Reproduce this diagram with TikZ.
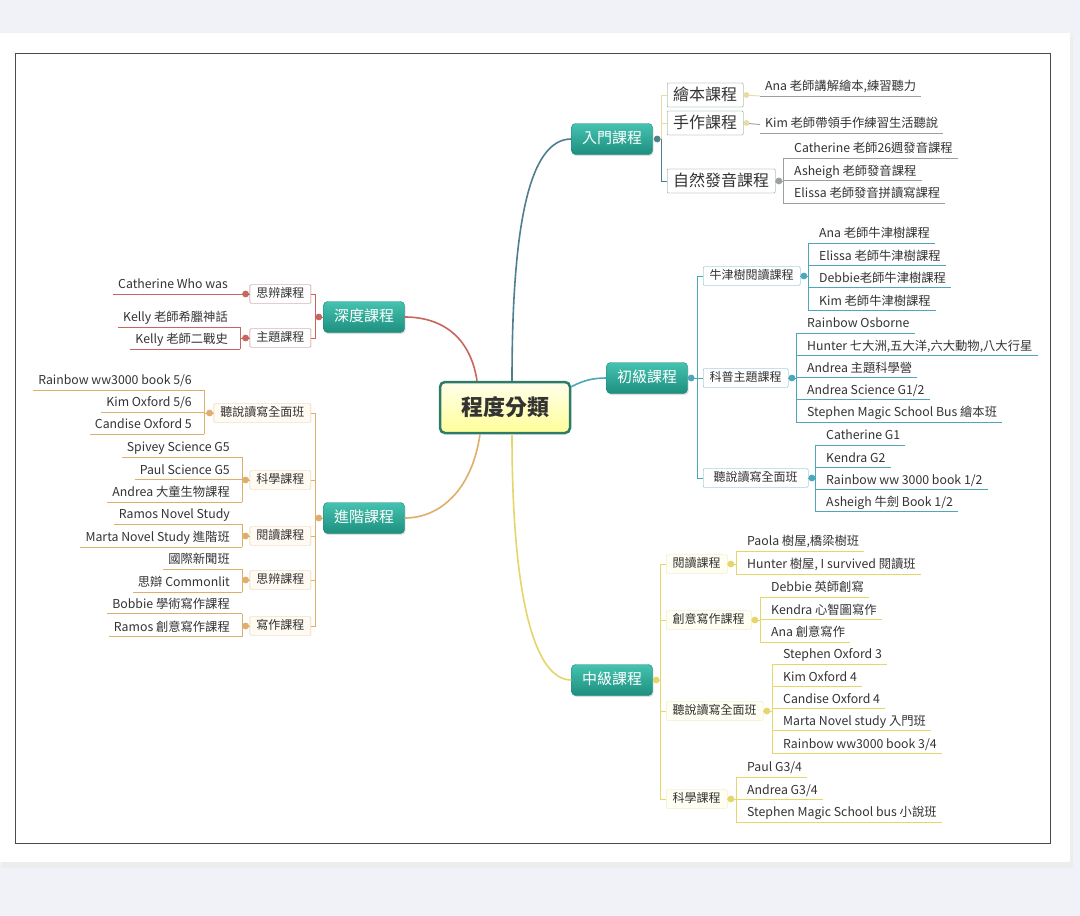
\documentclass[tikz,border=0pt]{standalone}
\usepackage{fontspec}
\setmainfont{Noto Sans CJK TC}
\usetikzlibrary{positioning,shadows}
\definecolor{pagebg}{HTML}{F0F2F7}
\definecolor{framec}{HTML}{4A4A4A}
\definecolor{txt}{HTML}{333333}
\definecolor{tealtop}{HTML}{45C2B0}
\definecolor{tealbot}{HTML}{1E8F7F}
\definecolor{tealbd}{HTML}{1F8576}
\definecolor{rootbd}{HTML}{2E7B6A}
\definecolor{rmc}{HTML}{4F7F8F}
\definecolor{rmy}{HTML}{EADBA0}
\definecolor{rmg}{HTML}{9A9FA0}
\definecolor{rmbox}{HTML}{6F8F72}
\definecolor{cjc}{HTML}{4DA7BA}
\definecolor{cjbox}{HTML}{5AAEC0}
\definecolor{zjc}{HTML}{E6D56A}
\definecolor{zjbox}{HTML}{ECE3A6}
\definecolor{zjfill}{HTML}{FFFEF2}
\definecolor{sdc}{HTML}{C6665F}
\definecolor{sdbox}{HTML}{B07272}
\definecolor{jjc}{HTML}{DDAE6C}
\definecolor{jjbox}{HTML}{E3C79C}
\definecolor{jjfill}{HTML}{FFFAF2}
\begin{document}
\begin{tikzpicture}[x=1pt, y=-1pt,
  rootbox/.style={draw=rootbd, line width=2.5pt, rounded corners=5pt, top color=yellow!8, bottom color=yellow!40,
    text=txt, font=\fontsize{22}{26}\selectfont\bfseries, minimum width=130pt, minimum height=51pt},
  main/.style={draw=tealbd, rounded corners=4pt, top color=tealtop, bottom color=tealbot, text=white,
    font=\fontsize{15}{18}\selectfont, inner xsep=10.5pt, inner ysep=7.75pt, text height=12.5pt, text depth=3pt,
    drop shadow={opacity=0.25, shadow xshift=1pt, shadow yshift=-1.5pt}},
  rmsub/.style={draw=rmbox, fill=white, text=txt, font=\fontsize{16}{19}\selectfont, inner xsep=6pt,
    inner ysep=4pt, text height=13pt, text depth=3pt, rounded corners=1pt, anchor=west},
  sub/.style={text=txt, font=\fontsize{12}{14}\selectfont, inner xsep=6.5pt, inner ysep=3pt,
    text height=10pt, text depth=2.5pt, rounded corners=1pt},
  leaf/.style={text=txt, font=\fontsize{12.3}{14}\selectfont, inner xsep=5pt, inner ysep=1.5pt,
    text height=10pt, text depth=3.5pt},
  leafr/.style={leaf, anchor=south west},
  leafl/.style={leaf, anchor=south east},
  branch/.style={line width=1.6pt},
  ln/.style={line width=0.9pt},
  knob/.style={fill=white, line width=0.7pt}]
  \useasboundingbox (0,0) rectangle (1080,916);
  % page and frame
  \fill[pagebg] (0,0) rectangle (1080,916);
  \fill[black!7] (2,37) rectangle (1073,868);
  \fill[white] (0,33) rectangle (1070,862);
  \draw[framec, line width=1pt] (15,53) rectangle (1050,843);

  % root and main topics
  \node[rootbox] (root) at (505,407.5) {程度分類};
  \node[main] (rumen) at (612,139) {入門課程};
  \node[main] (chuji) at (647,378) {初級課程};
  \node[main] (zhongji) at (612,680) {中級課程};
  \node[main] (shendu) at (364,317) {深度課程};
  \node[main] (jinjie) at (364,518) {進階課程};
  \draw[branch, rmc] ([xshift=7pt]root.north) .. controls (512,230) and (528,139) .. (rumen.west);
  \draw[branch, cjc] ([yshift=-6pt]root.north east) .. controls (584,380) and (594,378) .. (chuji.west);
  \draw[branch, zjc] ([xshift=7pt]root.south) .. controls (512,600) and (535,680) .. (zhongji.west);
  \draw[branch, sdc] ([xshift=-28pt]root.north) .. controls (470,335) and (440,317) .. (shendu.east);
  \draw[branch, jjc] ([xshift=-25pt]root.south) .. controls (472,490) and (440,518) .. (jinjie.east);

  % 入門課程
  \node[rmsub] (huiben) at (667,95) {繪本課程};
  \node[rmsub] (shouzuo) at (667,123) {手作課程};
  \node[rmsub] (ziran) at (667,181) {自然發音課程};
  \draw[ln, rmy] (rumen.east) -- ++(9,0) |- (huiben.west);
  \draw[ln, rmy] (shouzuo.west) -- ++(-6,0);
  \draw[ln, rmc] ([xshift=9pt]rumen.east) |- (ziran.west);
  \node[leafr] (ana) at (760,96) {Ana 老師講解繪本,練習聽力};
  \draw[ln, rmg] (ana.south west) -- (ana.south east);
  \draw[ln, rmy] (huiben.east) -- (ana.south west);
  \node[leafr] (kim) at (760,133) {Kim 老師帶領手作練習生活聽說};
  \draw[ln, rmg] (kim.south west) -- (kim.south east);
  \draw[ln, rmg] (shouzuo.east) -- (kim.west);
  \coordinate (zr) at (783,0);
  \foreach \t [count=\i] in {Catherine 老師26週發音課程, Asheigh 老師發音課程, Elissa 老師發音拼讀寫課程} {
    \node[leafr] (zr\i) at (789,135.5+22.5*\i) {\t};
    \draw[ln, rmg] (zr\i.south -| zr) -- (zr\i.south east);
  }
  \draw[ln, rmg] (zr1.south -| zr) -- (zr3.south -| zr);
  \draw[ln, rmg] (ziran.east) -- (ziran.east -| zr);
  \draw[knob, rmy] ([xshift=3pt]huiben.east) circle (2.5pt);
  \draw[knob, rmy] ([xshift=3pt]shouzuo.east) circle (2.5pt);
  \draw[knob, rmg] ([xshift=3.5pt]ziran.east) circle (3pt);
  \draw[knob, rmc] ([xshift=4.5pt]rumen.east) circle (3pt);

  % 初級課程
  \node[sub, draw=cjbox, fill=white, anchor=west] (niujin) at (703,276) {牛津樹閱讀課程};
  \node[sub, draw=cjbox, fill=white, anchor=west] (kepu) at (703,378) {科普主題課程};
  \node[sub, draw=cjbox, fill=white, anchor=west, minimum width=105pt] (tingshuo) at (703,478) {聽說讀寫全面班};
  \draw[ln, cjc] (chuji.east) -- (kepu.west);
  \draw[ln, cjc] (niujin.west) -- ++(-6,0) |- (tingshuo.west);
  \coordinate (nj) at (808,0);
  \foreach \t [count=\i] in {Ana 老師牛津樹課程, Elissa 老師牛津樹課程, Debbie老師牛津樹課程, Kim 老師牛津樹課程} {
    \node[leafr] (nj\i) at (814,220.6+22.4*\i) {\t};
    \draw[ln, cjc] (nj\i.south -| nj) -- (nj\i.south east);
  }
  \draw[ln, cjc] (nj1.south -| nj) -- (nj4.south -| nj);
  \draw[ln, cjc] (niujin.east) -- (niujin.east -| nj);
  \coordinate (kp) at (796,0);
  \foreach \t [count=\i] in {Rainbow Osborne, {Hunter 七大洲,五大洋,六大動物,八大行星}, Andrea 主題科學營,
      Andrea Science G1/2, Stephen Magic School Bus 繪本班} {
    \node[leafr] (kp\i) at (802,310.75+22.25*\i) {\t};
    \draw[ln, cjc] (kp\i.south -| kp) -- (kp\i.south east);
  }
  \draw[ln, cjc] (kp1.south -| kp) -- (kp5.south -| kp);
  \draw[ln, cjc] (kepu.east) -- (kepu.east -| kp);
  \coordinate (ts) at (815,0);
  \foreach \t [count=\i] in {Catherine G1, Kendra G2, Rainbow ww 3000 book 1/2, Asheigh 牛劍 Book 1/2} {
    \node[leafr] (ts\i) at (821,422.7+22.3*\i) {\t};
    \draw[ln, cjc] (ts\i.south -| ts) -- (ts\i.south east);
  }
  \draw[ln, cjc] (ts1.south -| ts) -- (ts4.south -| ts);
  \draw[ln, cjc] (tingshuo.east) -- (tingshuo.east -| ts);
  \foreach \n in {niujin, kepu, tingshuo}
    \draw[knob, cjc] ([xshift=3.5pt]\n.east) circle (3pt);
  \draw[knob, cjc] ([xshift=3.5pt]chuji.east) circle (3pt);

  % 中級課程
  \node[sub, draw=zjbox, fill=zjfill, anchor=west] (yuedu) at (666,564) {閱讀課程};
  \node[sub, draw=zjbox, fill=zjfill, anchor=west] (chuangyi) at (666,620) {創意寫作課程};
  \node[sub, draw=zjbox, fill=zjfill, anchor=west] (tingshuob) at (666,711) {聽說讀寫全面班};
  \node[sub, draw=zjbox, fill=zjfill, anchor=west] (kexue) at (666,799) {科學課程};
  \draw[ln, zjc] (yuedu.west) -- ++(-6,0) |- (kexue.west);
  \draw[ln, zjc] (chuangyi.west) -- ++(-6,0);
  \draw[ln, zjc] (tingshuob.west) -- ++(-6,0);
  \draw[ln, zjc] (zhongji.east) -- ++(7.5,0);
  \coordinate (yd) at (736,0);
  \foreach \t [count=\i] in {{Paola 樹屋,橋梁樹班}, {Hunter 樹屋, I survived 閱讀班}} {
    \node[leafr] (yd\i) at (742,528+23*\i) {\t};
    \draw[ln, zjc] (yd\i.south -| yd) -- (yd\i.south east);
  }
  \draw[ln, zjc] (yd1.south -| yd) -- (yd2.south -| yd);
  \draw[ln, zjc] (yuedu.east) -- (yuedu.east -| yd);
  \coordinate (cy) at (760,0);
  \foreach \t [count=\i] in {Debbie 英師創寫, Kendra 心智圖寫作, Ana 創意寫作} {
    \node[leafr] (cy\i) at (766,574.5+22.5*\i) {\t};
    \draw[ln, zjc] (cy\i.south -| cy) -- (cy\i.south east);
  }
  \draw[ln, zjc] (cy1.south -| cy) -- (cy3.south -| cy);
  \draw[ln, zjc] (chuangyi.east) -- (chuangyi.east -| cy);
  \coordinate (tb) at (772,0);
  \foreach \t [count=\i] in {Stephen Oxford 3, Kim Oxford 4, Candise Oxford 4, Marta Novel study 入門班,
      Rainbow ww3000 book 3/4} {
    \node[leafr] (tb\i) at (778,641.7+22.3*\i) {\t};
    \draw[ln, zjc] (tb\i.south -| tb) -- (tb\i.south east);
  }
  \draw[ln, zjc] (tb1.south -| tb) -- (tb5.south -| tb);
  \draw[ln, zjc] (tingshuob.east) -- (tingshuob.east -| tb);
  \coordinate (kx) at (736,0);
  \foreach \t [count=\i] in {Paul G3/4, Andrea G3/4, Stephen Magic School bus 小說班} {
    \node[leafr] (kx\i) at (742,754.5+22.5*\i) {\t};
    \draw[ln, zjc] (kx\i.south -| kx) -- (kx\i.south east);
  }
  \draw[ln, zjc] (kx1.south -| kx) -- (kx3.south -| kx);
  \draw[ln, zjc] (kexue.east) -- (kexue.east -| kx);
  \foreach \n in {yuedu, chuangyi, tingshuob, kexue}
    \draw[knob, zjc] ([xshift=3.5pt]\n.east) circle (3pt);
  \draw[knob, zjc] ([xshift=3.5pt]zhongji.east) circle (3pt);

  % 深度課程
  \node[sub, draw=sdbox, fill=white, anchor=east] (sibian) at (311,294) {思辨課程};
  \node[sub, draw=sdbox, fill=white, anchor=east] (zhuti) at (311,338) {主題課程};
  \draw[ln, sdc] (sibian.east) -- ++(4,0) |- (zhuti.east);
  \draw[ln, sdc] (shendu.west) -- ++(-8.5,0);
  \node[leafl] (cw) at (233,294) {Catherine Who was};
  \draw[ln, sdc] (cw.south west) -- (sibian.west);
  \coordinate (zt) at (240,0);
  \foreach \t [count=\i] in {Kelly 老師希臘神話, Kelly 老師二戰史} {
    \node[leafl] (zt\i) at (233,305+22*\i) {\t};
    \draw[ln, sdc] (zt\i.south west) -- (zt\i.south -| zt);
  }
  \draw[ln, sdc] (zt1.south -| zt) -- (zt2.south -| zt);
  \draw[ln, sdc] (zhuti.west) -- (zhuti.west -| zt);
  \foreach \n in {sibian, zhuti}
    \draw[knob, sdc] ([xshift=-4pt]\n.west) circle (3pt);
  \draw[knob, sdc] ([xshift=-4.5pt]shendu.west) circle (3pt);

  % 進階課程
  \node[sub, draw=jjbox, fill=jjfill, anchor=east] (jts) at (311,413) {聽說讀寫全面班};
  \node[sub, draw=jjbox, fill=jjfill, anchor=east] (jkx) at (311,480) {科學課程};
  \node[sub, draw=jjbox, fill=jjfill, anchor=east] (jyd) at (311,536) {閱讀課程};
  \node[sub, draw=jjbox, fill=jjfill, anchor=east] (jsb) at (311,580) {思辨課程};
  \node[sub, draw=jjbox, fill=jjfill, anchor=east] (jxz) at (311,626) {寫作課程};
  \draw[ln, jjc] (jts.east) -- ++(4,0) |- (jxz.east);
  \foreach \n in {jkx, jyd, jsb}
    \draw[ln, jjc] (\n.east) -- ++(4,0);
  \draw[ln, jjc] (jinjie.west) -- ++(-8.5,0);
  \coordinate (jt) at (204,0);
  \foreach \t [count=\i] in {Rainbow ww3000 book 5/6, Kim Oxford 5/6, Candise Oxford 5} {
    \node[leafl] (jt\i) at (197,368+22*\i) {\t};
    \draw[ln, jjc] (jt\i.south west) -- (jt\i.south -| jt);
  }
  \draw[ln, jjc] (jt1.south -| jt) -- (jt3.south -| jt);
  \draw[ln, jjc] (jts.west) -- (jts.west -| jt);
  \coordinate (jk) at (242,0);
  \foreach \t [count=\i] in {Spivey Science G5, Paul Science G5, Andrea 大童生物課程} {
    \node[leafl] (jk\i) at (235,434.5+22.5*\i) {\t};
    \draw[ln, jjc] (jk\i.south west) -- (jk\i.south -| jk);
  }
  \draw[ln, jjc] (jk1.south -| jk) -- (jk3.south -| jk);
  \draw[ln, jjc] (jkx.west) -- (jkx.west -| jk);
  \foreach \t [count=\i] in {Ramos Novel Study, Marta Novel Study 進階班} {
    \node[leafl] (jy\i) at (235,501+23*\i) {\t};
    \draw[ln, jjc] (jy\i.south west) -- (jy\i.south -| jk);
  }
  \draw[ln, jjc] (jy1.south -| jk) -- (jy2.south -| jk);
  \draw[ln, jjc] (jyd.west) -- (jyd.west -| jk);
  \foreach \t [count=\i] in {國際新聞班, 思辯 Commonlit} {
    \node[leafl] (js\i) at (235,546+23*\i) {\t};
    \draw[ln, jjc] (js\i.south west) -- (js\i.south -| jk);
  }
  \draw[ln, jjc] (js1.south -| jk) -- (js2.south -| jk);
  \draw[ln, jjc] (jsb.west) -- (jsb.west -| jk);
  \foreach \t [count=\i] in {Bobbie 學術寫作課程, Ramos 創意寫作課程} {
    \node[leafl] (jw\i) at (235,590.5+23*\i) {\t};
    \draw[ln, jjc] (jw\i.south west) -- (jw\i.south -| jk);
  }
  \draw[ln, jjc] (jw1.south -| jk) -- (jw2.south -| jk);
  \draw[ln, jjc] (jxz.west) -- (jxz.west -| jk);
  \foreach \n in {jts, jkx, jyd, jsb, jxz}
    \draw[knob, jjc] ([xshift=-4pt]\n.west) circle (3pt);
  \draw[knob, jjc] ([xshift=-4.5pt]jinjie.west) circle (3pt);
\end{tikzpicture}
\end{document}
